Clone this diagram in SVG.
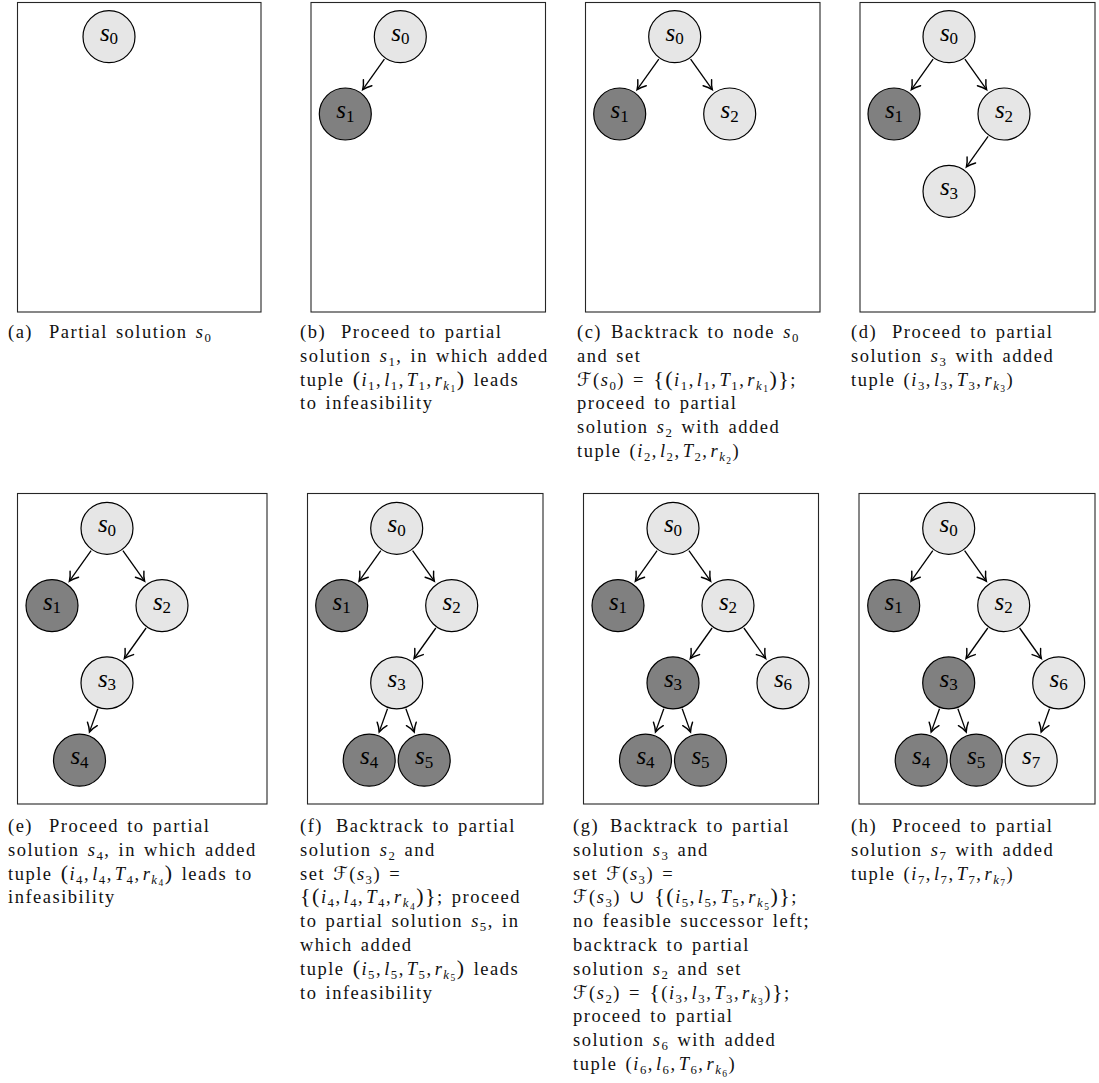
<svg xmlns="http://www.w3.org/2000/svg" width="1099" height="1083" viewBox="0 0 1099 1083">
<defs>
<style>
.box{fill:#fff;stroke:#262626;stroke-width:1.1}
.lt{fill:#e6e6e6;stroke:#000;stroke-width:1.2}
.dk{fill:#808080;stroke:#000;stroke-width:1.2}
.nl{font-family:"Liberation Serif","DejaVu Serif",serif;font-size:25px;text-anchor:middle;fill:#000}
.ns{font-size:17px;font-style:normal}
.cap{font-family:"Liberation Serif","DejaVu Serif",serif;font-size:18.5px;letter-spacing:1.5px;word-spacing:2px;fill:#111}
.m{font-style:italic}
.sb{font-size:12.8px;font-style:normal}
.sk{font-size:12.8px;font-style:italic}
.ssb{font-size:9.5px;font-style:normal}
.bp{font-size:22px}
.sf{font-family:"DejaVu Serif","DejaVu Sans",serif;font-style:italic}
.edge{stroke:#000;stroke-width:1.3;fill:none;marker-end:url(#ah)}
</style>
<marker id="ah" viewBox="-10 -7 11 14" refX="0" refY="0" markerWidth="11" markerHeight="14" markerUnits="userSpaceOnUse" orient="auto" overflow="visible">
<path d="M-8.5,-5.2 C-5,-2.3 -1.8,-0.7 0,0 C-1.8,0.7 -5,2.3 -8.5,5.2" fill="none" stroke="#000" stroke-width="1.45" stroke-linecap="round"/>
</marker>
</defs>
<rect width="1099" height="1083" fill="#fff"/>

<g id="panels">
<rect class="box" x="17.5" y="2.5" width="243.5" height="309.5"/>
<rect class="box" x="311" y="2.5" width="234.5" height="309.5"/>
<rect class="box" x="585.5" y="2.5" width="234.5" height="309.5"/>
<rect class="box" x="860" y="2.5" width="235" height="309.5"/>
<rect class="box" x="17.5" y="493.5" width="249.5" height="310.5"/>
<rect class="box" x="307.5" y="493.5" width="235.5" height="310.5"/>
<rect class="box" x="583.5" y="493.5" width="235" height="310.5"/>
<rect class="box" x="859" y="493.5" width="236" height="310.5"/>
</g>

<g id="connectors">
<line class="edge" x1="384.4" y1="59.1" x2="362.7" y2="89.6"/>
<line class="edge" x1="658.8" y1="59.1" x2="637.1" y2="89.6"/>
<line class="edge" x1="690.6" y1="59.1" x2="712.3" y2="89.6"/>
<line class="edge" x1="933.1" y1="59.1" x2="911.4" y2="89.6"/>
<line class="edge" x1="964.9" y1="59.1" x2="986.6" y2="89.6"/>
<line class="edge" x1="988.1" y1="136.4" x2="966.4" y2="166.9"/>
<line class="edge" x1="91.1" y1="550.7" x2="69.4" y2="581.2"/>
<line class="edge" x1="122.9" y1="550.7" x2="144.6" y2="581.2"/>
<line class="edge" x1="146.1" y1="628" x2="124.4" y2="658.5"/>
<line class="edge" x1="97.8" y1="708.8" x2="89.5" y2="731.9"/>
<line class="edge" x1="380.8" y1="550.7" x2="359.1" y2="581.2"/>
<line class="edge" x1="412.6" y1="550.7" x2="434.3" y2="581.2"/>
<line class="edge" x1="435.8" y1="628" x2="414.1" y2="658.5"/>
<line class="edge" x1="387.5" y1="708.8" x2="379.2" y2="731.9"/>
<line class="edge" x1="405.9" y1="708.8" x2="414.2" y2="731.9"/>
<line class="edge" x1="657.1" y1="550.7" x2="635.4" y2="581.2"/>
<line class="edge" x1="688.9" y1="550.7" x2="710.6" y2="581.2"/>
<line class="edge" x1="712.1" y1="628" x2="690.4" y2="658.5"/>
<line class="edge" x1="743.9" y1="628" x2="765.6" y2="658.5"/>
<line class="edge" x1="663.8" y1="708.8" x2="655.5" y2="731.9"/>
<line class="edge" x1="682.2" y1="708.8" x2="690.5" y2="731.9"/>
<line class="edge" x1="932.8" y1="550.7" x2="911.1" y2="581.2"/>
<line class="edge" x1="964.6" y1="550.7" x2="986.3" y2="581.2"/>
<line class="edge" x1="987.8" y1="628" x2="966.1" y2="658.5"/>
<line class="edge" x1="1019.6" y1="628" x2="1041.3" y2="658.5"/>
<line class="edge" x1="939.5" y1="708.8" x2="931.2" y2="731.9"/>
<line class="edge" x1="957.9" y1="708.8" x2="966.2" y2="731.9"/>
<line class="edge" x1="1049.5" y1="708.8" x2="1041.2" y2="731.9"/>
</g>

<!-- panel a -->
<g id="a_s0"><circle class="lt" cx="109" cy="36.7" r="26"/><text class="nl" x="109" y="40.7"><tspan class="m">s</tspan><tspan class="ns" dy="3.5">0</tspan></text></g>
<!-- panel b -->
<g id="b_s0"><circle class="lt" cx="400.3" cy="36.7" r="26"/><text class="nl" x="400.3" y="40.7"><tspan class="m">s</tspan><tspan class="ns" dy="3.5">0</tspan></text></g>
<g id="b_s1"><circle class="dk" cx="345.3" cy="114" r="26"/><text class="nl" x="345.3" y="118"><tspan class="m">s</tspan><tspan class="ns" dy="3.5">1</tspan></text></g>
<!-- panel c -->
<g id="c_s0"><circle class="lt" cx="674.7" cy="36.7" r="26"/><text class="nl" x="674.7" y="40.7"><tspan class="m">s</tspan><tspan class="ns" dy="3.5">0</tspan></text></g>
<g id="c_s1"><circle class="dk" cx="619.7" cy="114" r="26"/><text class="nl" x="619.7" y="118"><tspan class="m">s</tspan><tspan class="ns" dy="3.5">1</tspan></text></g>
<g id="c_s2"><circle class="lt" cx="729.7" cy="114" r="26"/><text class="nl" x="729.7" y="118"><tspan class="m">s</tspan><tspan class="ns" dy="3.5">2</tspan></text></g>
<!-- panel d -->
<g id="d_s0"><circle class="lt" cx="949" cy="36.7" r="26"/><text class="nl" x="949" y="40.7"><tspan class="m">s</tspan><tspan class="ns" dy="3.5">0</tspan></text></g>
<g id="d_s1"><circle class="dk" cx="894" cy="114" r="26"/><text class="nl" x="894" y="118"><tspan class="m">s</tspan><tspan class="ns" dy="3.5">1</tspan></text></g>
<g id="d_s2"><circle class="lt" cx="1004" cy="114" r="26"/><text class="nl" x="1004" y="118"><tspan class="m">s</tspan><tspan class="ns" dy="3.5">2</tspan></text></g>
<g id="d_s3"><circle class="lt" cx="949" cy="191.3" r="26"/><text class="nl" x="949" y="195.3"><tspan class="m">s</tspan><tspan class="ns" dy="3.5">3</tspan></text></g>
<!-- panel e -->
<g id="e_s0"><circle class="lt" cx="107" cy="528.3" r="26"/><text class="nl" x="107" y="532.3"><tspan class="m">s</tspan><tspan class="ns" dy="3.5">0</tspan></text></g>
<g id="e_s1"><circle class="dk" cx="52" cy="605.6" r="26"/><text class="nl" x="52" y="609.6"><tspan class="m">s</tspan><tspan class="ns" dy="3.5">1</tspan></text></g>
<g id="e_s2"><circle class="lt" cx="162" cy="605.6" r="26"/><text class="nl" x="162" y="609.6"><tspan class="m">s</tspan><tspan class="ns" dy="3.5">2</tspan></text></g>
<g id="e_s3"><circle class="lt" cx="107" cy="682.9" r="26"/><text class="nl" x="107" y="686.9"><tspan class="m">s</tspan><tspan class="ns" dy="3.5">3</tspan></text></g>
<g id="e_s4"><circle class="dk" cx="79.5" cy="760.2" r="26"/><text class="nl" x="79.5" y="764.2"><tspan class="m">s</tspan><tspan class="ns" dy="3.5">4</tspan></text></g>
<!-- panel f -->
<g id="f_s0"><circle class="lt" cx="396.7" cy="528.3" r="26"/><text class="nl" x="396.7" y="532.3"><tspan class="m">s</tspan><tspan class="ns" dy="3.5">0</tspan></text></g>
<g id="f_s1"><circle class="dk" cx="341.7" cy="605.6" r="26"/><text class="nl" x="341.7" y="609.6"><tspan class="m">s</tspan><tspan class="ns" dy="3.5">1</tspan></text></g>
<g id="f_s2"><circle class="lt" cx="451.7" cy="605.6" r="26"/><text class="nl" x="451.7" y="609.6"><tspan class="m">s</tspan><tspan class="ns" dy="3.5">2</tspan></text></g>
<g id="f_s3"><circle class="lt" cx="396.7" cy="682.9" r="26"/><text class="nl" x="396.7" y="686.9"><tspan class="m">s</tspan><tspan class="ns" dy="3.5">3</tspan></text></g>
<g id="f_s4"><circle class="dk" cx="369.2" cy="760.2" r="26"/><text class="nl" x="369.2" y="764.2"><tspan class="m">s</tspan><tspan class="ns" dy="3.5">4</tspan></text></g>
<g id="f_s5"><circle class="dk" cx="424.2" cy="760.2" r="26"/><text class="nl" x="424.2" y="764.2"><tspan class="m">s</tspan><tspan class="ns" dy="3.5">5</tspan></text></g>
<!-- panel g -->
<g id="g_s0"><circle class="lt" cx="673" cy="528.3" r="26"/><text class="nl" x="673" y="532.3"><tspan class="m">s</tspan><tspan class="ns" dy="3.5">0</tspan></text></g>
<g id="g_s1"><circle class="dk" cx="618" cy="605.6" r="26"/><text class="nl" x="618" y="609.6"><tspan class="m">s</tspan><tspan class="ns" dy="3.5">1</tspan></text></g>
<g id="g_s2"><circle class="lt" cx="728" cy="605.6" r="26"/><text class="nl" x="728" y="609.6"><tspan class="m">s</tspan><tspan class="ns" dy="3.5">2</tspan></text></g>
<g id="g_s3"><circle class="dk" cx="673" cy="682.9" r="26"/><text class="nl" x="673" y="686.9"><tspan class="m">s</tspan><tspan class="ns" dy="3.5">3</tspan></text></g>
<g id="g_s6"><circle class="lt" cx="783" cy="682.9" r="26"/><text class="nl" x="783" y="686.9"><tspan class="m">s</tspan><tspan class="ns" dy="3.5">6</tspan></text></g>
<g id="g_s4"><circle class="dk" cx="645.5" cy="760.2" r="26"/><text class="nl" x="645.5" y="764.2"><tspan class="m">s</tspan><tspan class="ns" dy="3.5">4</tspan></text></g>
<g id="g_s5"><circle class="dk" cx="700.5" cy="760.2" r="26"/><text class="nl" x="700.5" y="764.2"><tspan class="m">s</tspan><tspan class="ns" dy="3.5">5</tspan></text></g>
<!-- panel h -->
<g id="h_s0"><circle class="lt" cx="948.7" cy="528.3" r="26"/><text class="nl" x="948.7" y="532.3"><tspan class="m">s</tspan><tspan class="ns" dy="3.5">0</tspan></text></g>
<g id="h_s1"><circle class="dk" cx="893.7" cy="605.6" r="26"/><text class="nl" x="893.7" y="609.6"><tspan class="m">s</tspan><tspan class="ns" dy="3.5">1</tspan></text></g>
<g id="h_s2"><circle class="lt" cx="1003.7" cy="605.6" r="26"/><text class="nl" x="1003.7" y="609.6"><tspan class="m">s</tspan><tspan class="ns" dy="3.5">2</tspan></text></g>
<g id="h_s3"><circle class="dk" cx="948.7" cy="682.9" r="26"/><text class="nl" x="948.7" y="686.9"><tspan class="m">s</tspan><tspan class="ns" dy="3.5">3</tspan></text></g>
<g id="h_s6"><circle class="lt" cx="1058.7" cy="682.9" r="26"/><text class="nl" x="1058.7" y="686.9"><tspan class="m">s</tspan><tspan class="ns" dy="3.5">6</tspan></text></g>
<g id="h_s4"><circle class="dk" cx="921.2" cy="760.2" r="26"/><text class="nl" x="921.2" y="764.2"><tspan class="m">s</tspan><tspan class="ns" dy="3.5">4</tspan></text></g>
<g id="h_s5"><circle class="dk" cx="976.2" cy="760.2" r="26"/><text class="nl" x="976.2" y="764.2"><tspan class="m">s</tspan><tspan class="ns" dy="3.5">5</tspan></text></g>
<g id="h_s7"><circle class="lt" cx="1031.2" cy="760.2" r="26"/><text class="nl" x="1031.2" y="764.2"><tspan class="m">s</tspan><tspan class="ns" dy="3.5">7</tspan></text></g>

<g id="captions">
<!-- (a) -->
<text class="cap" y="338"><tspan x="8">(a)</tspan><tspan x="49">Partial solution </tspan><tspan class="m">s</tspan><tspan class="sb" dy="4">0</tspan></text>
<!-- (b) -->
<text class="cap" y="338"><tspan x="300">(b)</tspan><tspan x="341">Proceed to partial</tspan></text>
<text class="cap" x="300" y="361.8">solution <tspan class="m">s</tspan><tspan class="sb" dy="4">1</tspan><tspan dy="-4">, in which added</tspan></text>
<text class="cap" x="300" y="385.6">tuple <tspan class="bp">(</tspan><tspan class="m">i</tspan><tspan class="sb" dy="4">1</tspan><tspan dy="-4">,</tspan><tspan class="m" dx="2">l</tspan><tspan class="sb" dy="4">1</tspan><tspan dy="-4">,</tspan><tspan class="m" dx="2">T</tspan><tspan class="sb" dy="4">1</tspan><tspan dy="-4">,</tspan><tspan class="m" dx="2">r</tspan><tspan class="sk" dy="4">k</tspan><tspan class="ssb" dy="2.5">1</tspan><tspan class="bp" dy="-6.5">)</tspan> leads</text>
<text class="cap" x="300" y="409.4">to infeasibility</text>
<!-- (c) -->
<text class="cap" y="338"><tspan x="577">(c)</tspan><tspan x="611">Backtrack to node </tspan><tspan class="m">s</tspan><tspan class="sb" dy="4">0</tspan></text>
<text class="cap" x="577" y="361.8">and set</text>
<text class="cap" x="577" y="385.6"><tspan class="sf">ℱ</tspan>(<tspan class="m">s</tspan><tspan class="sb" dy="4">0</tspan><tspan dy="-4">) = </tspan><tspan class="bp">{(</tspan><tspan class="m">i</tspan><tspan class="sb" dy="4">1</tspan><tspan dy="-4">,</tspan><tspan class="m" dx="2">l</tspan><tspan class="sb" dy="4">1</tspan><tspan dy="-4">,</tspan><tspan class="m" dx="2">T</tspan><tspan class="sb" dy="4">1</tspan><tspan dy="-4">,</tspan><tspan class="m" dx="2">r</tspan><tspan class="sk" dy="4">k</tspan><tspan class="ssb" dy="2.5">1</tspan><tspan class="bp" dy="-6.5">)}</tspan>;</text>
<text class="cap" x="577" y="409.4">proceed to partial</text>
<text class="cap" x="577" y="433.2">solution <tspan class="m">s</tspan><tspan class="sb" dy="4">2</tspan><tspan dy="-4"> with added</tspan></text>
<text class="cap" x="577" y="457">tuple (<tspan class="m">i</tspan><tspan class="sb" dy="4">2</tspan><tspan dy="-4">,</tspan><tspan class="m" dx="2">l</tspan><tspan class="sb" dy="4">2</tspan><tspan dy="-4">,</tspan><tspan class="m" dx="2">T</tspan><tspan class="sb" dy="4">2</tspan><tspan dy="-4">,</tspan><tspan class="m" dx="2">r</tspan><tspan class="sk" dy="4">k</tspan><tspan class="ssb" dy="2.5">2</tspan><tspan dy="-6.5">)</tspan></text>
<!-- (d) -->
<text class="cap" y="338"><tspan x="851">(d)</tspan><tspan x="892">Proceed to partial</tspan></text>
<text class="cap" x="851" y="361.8">solution <tspan class="m">s</tspan><tspan class="sb" dy="4">3</tspan><tspan dy="-4"> with added</tspan></text>
<text class="cap" x="851" y="385.6">tuple (<tspan class="m">i</tspan><tspan class="sb" dy="4">3</tspan><tspan dy="-4">,</tspan><tspan class="m" dx="2">l</tspan><tspan class="sb" dy="4">3</tspan><tspan dy="-4">,</tspan><tspan class="m" dx="2">T</tspan><tspan class="sb" dy="4">3</tspan><tspan dy="-4">,</tspan><tspan class="m" dx="2">r</tspan><tspan class="sk" dy="4">k</tspan><tspan class="ssb" dy="2.5">3</tspan><tspan dy="-6.5">)</tspan></text>
<!-- (e) -->
<text class="cap" y="832"><tspan x="8">(e)</tspan><tspan x="49">Proceed to partial</tspan></text>
<text class="cap" x="8" y="855.8">solution <tspan class="m">s</tspan><tspan class="sb" dy="4">4</tspan><tspan dy="-4">, in which added</tspan></text>
<text class="cap" x="8" y="879.6">tuple <tspan class="bp">(</tspan><tspan class="m">i</tspan><tspan class="sb" dy="4">4</tspan><tspan dy="-4">,</tspan><tspan class="m" dx="2">l</tspan><tspan class="sb" dy="4">4</tspan><tspan dy="-4">,</tspan><tspan class="m" dx="2">T</tspan><tspan class="sb" dy="4">4</tspan><tspan dy="-4">,</tspan><tspan class="m" dx="2">r</tspan><tspan class="sk" dy="4">k</tspan><tspan class="ssb" dy="2.5">4</tspan><tspan class="bp" dy="-6.5">)</tspan> leads to</text>
<text class="cap" x="8" y="903.4">infeasibility</text>
<!-- (f) -->
<text class="cap" y="832"><tspan x="300">(f)</tspan><tspan x="336">Backtrack to partial</tspan></text>
<text class="cap" x="300" y="855.8">solution <tspan class="m">s</tspan><tspan class="sb" dy="4">2</tspan><tspan dy="-4"> and</tspan></text>
<text class="cap" x="300" y="879.6">set <tspan class="sf">ℱ</tspan>(<tspan class="m">s</tspan><tspan class="sb" dy="4">3</tspan><tspan dy="-4">) =</tspan></text>
<text class="cap" x="300" y="903.4"><tspan class="bp">{(</tspan><tspan class="m">i</tspan><tspan class="sb" dy="4">4</tspan><tspan dy="-4">,</tspan><tspan class="m" dx="2">l</tspan><tspan class="sb" dy="4">4</tspan><tspan dy="-4">,</tspan><tspan class="m" dx="2">T</tspan><tspan class="sb" dy="4">4</tspan><tspan dy="-4">,</tspan><tspan class="m" dx="2">r</tspan><tspan class="sk" dy="4">k</tspan><tspan class="ssb" dy="2.5">4</tspan><tspan class="bp" dy="-6.5">)}</tspan>; proceed</text>
<text class="cap" x="300" y="927.2">to partial solution <tspan class="m">s</tspan><tspan class="sb" dy="4">5</tspan><tspan dy="-4">, in</tspan></text>
<text class="cap" x="300" y="951">which added</text>
<text class="cap" x="300" y="974.8">tuple <tspan class="bp">(</tspan><tspan class="m">i</tspan><tspan class="sb" dy="4">5</tspan><tspan dy="-4">,</tspan><tspan class="m" dx="2">l</tspan><tspan class="sb" dy="4">5</tspan><tspan dy="-4">,</tspan><tspan class="m" dx="2">T</tspan><tspan class="sb" dy="4">5</tspan><tspan dy="-4">,</tspan><tspan class="m" dx="2">r</tspan><tspan class="sk" dy="4">k</tspan><tspan class="ssb" dy="2.5">5</tspan><tspan class="bp" dy="-6.5">)</tspan> leads</text>
<text class="cap" x="300" y="998.6">to infeasibility</text>
<!-- (g) -->
<text class="cap" y="832"><tspan x="573">(g)</tspan><tspan x="610">Backtrack to partial</tspan></text>
<text class="cap" x="573" y="855.8">solution <tspan class="m">s</tspan><tspan class="sb" dy="4">3</tspan><tspan dy="-4"> and</tspan></text>
<text class="cap" x="573" y="879.6">set <tspan class="sf">ℱ</tspan>(<tspan class="m">s</tspan><tspan class="sb" dy="4">3</tspan><tspan dy="-4">) =</tspan></text>
<text class="cap" x="573" y="903.4"><tspan class="sf">ℱ</tspan>(<tspan class="m">s</tspan><tspan class="sb" dy="4">3</tspan><tspan dy="-4">) ∪ </tspan><tspan class="bp">{(</tspan><tspan class="m">i</tspan><tspan class="sb" dy="4">5</tspan><tspan dy="-4">,</tspan><tspan class="m" dx="2">l</tspan><tspan class="sb" dy="4">5</tspan><tspan dy="-4">,</tspan><tspan class="m" dx="2">T</tspan><tspan class="sb" dy="4">5</tspan><tspan dy="-4">,</tspan><tspan class="m" dx="2">r</tspan><tspan class="sk" dy="4">k</tspan><tspan class="ssb" dy="2.5">5</tspan><tspan class="bp" dy="-6.5">)}</tspan>;</text>
<text class="cap" x="573" y="927.2">no feasible successor left;</text>
<text class="cap" x="573" y="951">backtrack to partial</text>
<text class="cap" x="573" y="974.8">solution <tspan class="m">s</tspan><tspan class="sb" dy="4">2</tspan><tspan dy="-4"> and set</tspan></text>
<text class="cap" x="573" y="998.6"><tspan class="sf">ℱ</tspan>(<tspan class="m">s</tspan><tspan class="sb" dy="4">2</tspan><tspan dy="-4">) = </tspan><tspan class="bp">{</tspan>(<tspan class="m">i</tspan><tspan class="sb" dy="4">3</tspan><tspan dy="-4">,</tspan><tspan class="m" dx="2">l</tspan><tspan class="sb" dy="4">3</tspan><tspan dy="-4">,</tspan><tspan class="m" dx="2">T</tspan><tspan class="sb" dy="4">3</tspan><tspan dy="-4">,</tspan><tspan class="m" dx="2">r</tspan><tspan class="sk" dy="4">k</tspan><tspan class="ssb" dy="2.5">3</tspan><tspan dy="-6.5">)</tspan><tspan class="bp">}</tspan>;</text>
<text class="cap" x="573" y="1022.4">proceed to partial</text>
<text class="cap" x="573" y="1046.2">solution <tspan class="m">s</tspan><tspan class="sb" dy="4">6</tspan><tspan dy="-4"> with added</tspan></text>
<text class="cap" x="573" y="1070">tuple (<tspan class="m">i</tspan><tspan class="sb" dy="4">6</tspan><tspan dy="-4">,</tspan><tspan class="m" dx="2">l</tspan><tspan class="sb" dy="4">6</tspan><tspan dy="-4">,</tspan><tspan class="m" dx="2">T</tspan><tspan class="sb" dy="4">6</tspan><tspan dy="-4">,</tspan><tspan class="m" dx="2">r</tspan><tspan class="sk" dy="4">k</tspan><tspan class="ssb" dy="2.5">6</tspan><tspan dy="-6.5">)</tspan></text>
<!-- (h) -->
<text class="cap" y="832"><tspan x="851">(h)</tspan><tspan x="892">Proceed to partial</tspan></text>
<text class="cap" x="851" y="855.8">solution <tspan class="m">s</tspan><tspan class="sb" dy="4">7</tspan><tspan dy="-4"> with added</tspan></text>
<text class="cap" x="851" y="879.6">tuple (<tspan class="m">i</tspan><tspan class="sb" dy="4">7</tspan><tspan dy="-4">,</tspan><tspan class="m" dx="2">l</tspan><tspan class="sb" dy="4">7</tspan><tspan dy="-4">,</tspan><tspan class="m" dx="2">T</tspan><tspan class="sb" dy="4">7</tspan><tspan dy="-4">,</tspan><tspan class="m" dx="2">r</tspan><tspan class="sk" dy="4">k</tspan><tspan class="ssb" dy="2.5">7</tspan><tspan dy="-6.5">)</tspan></text>
</g>
</svg>
